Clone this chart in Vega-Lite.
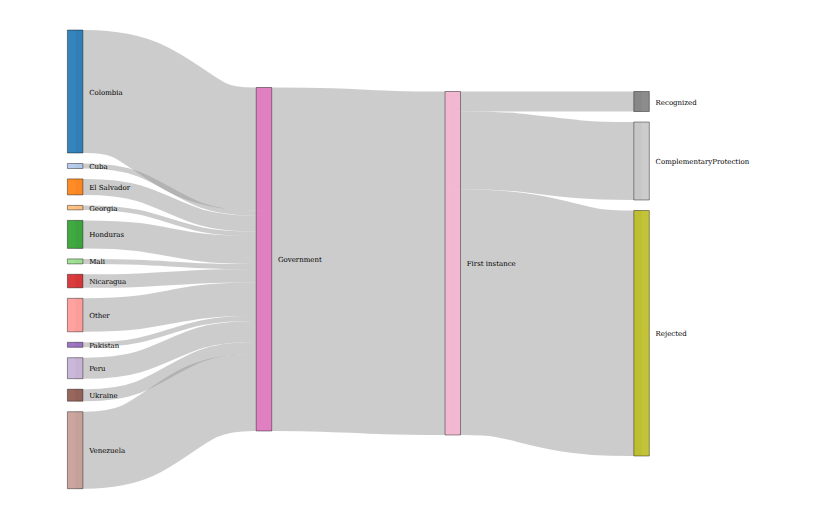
{
  "$schema": "https://vega.github.io/schema/vega-lite/v6.json",
  "width": 820,
  "height": 520,
  "autosize": {"type": "none"},
  "padding": 0,
  "background": "white",
  "config": {"view": {"stroke": null}, "scale": {"continuousPadding": 0}},
  "datasets": {
    "nodes": [
      {"name": "Colombia", "stage": 0, "y0": 30, "y1": 153},
      {"name": "Cuba", "stage": 0, "y0": 163.5, "y1": 168.5},
      {"name": "El Salvador", "stage": 0, "y0": 178.9, "y1": 194.9},
      {"name": "Georgia", "stage": 0, "y0": 205.4, "y1": 209.9},
      {"name": "Honduras", "stage": 0, "y0": 220.4, "y1": 248.4},
      {"name": "Mali", "stage": 0, "y0": 258.9, "y1": 263.9},
      {"name": "Nicaragua", "stage": 0, "y0": 274.3, "y1": 287.8},
      {"name": "Other", "stage": 0, "y0": 298.3, "y1": 331.8},
      {"name": "Pakistan", "stage": 0, "y0": 342.3, "y1": 347.3},
      {"name": "Peru", "stage": 0, "y0": 357.7, "y1": 378.7},
      {"name": "Ukraine", "stage": 0, "y0": 389.2, "y1": 401.2},
      {"name": "Venezuela", "stage": 0, "y0": 411.7, "y1": 488.7},
      {"name": "Government", "stage": 1, "y0": 87.5, "y1": 431},
      {"name": "First instance", "stage": 2, "y0": 91.5, "y1": 435},
      {"name": "Recognized", "stage": 3, "y0": 91.5, "y1": 111.5},
      {"name": "ComplementaryProtection", "stage": 3, "y0": 122, "y1": 200},
      {"name": "Rejected", "stage": 3, "y0": 210.5, "y1": 456}
    ],
    "links": [
      {"link": "Colombia", "x": 0, "y": 91.5, "v": 123},
      {"link": "Colombia", "x": 0.333, "y": 91.5, "v": 123},
      {"link": "Colombia", "x": 0.667, "y": 149, "v": 123},
      {"link": "Colombia", "x": 1, "y": 149, "v": 123},
      {"link": "Cuba", "x": 0, "y": 166, "v": 5},
      {"link": "Cuba", "x": 0.333, "y": 166, "v": 5},
      {"link": "Cuba", "x": 0.667, "y": 213, "v": 5},
      {"link": "Cuba", "x": 1, "y": 213, "v": 5},
      {"link": "El Salvador", "x": 0, "y": 186.9, "v": 16},
      {"link": "El Salvador", "x": 0.333, "y": 186.9, "v": 16},
      {"link": "El Salvador", "x": 0.667, "y": 223.5, "v": 16},
      {"link": "El Salvador", "x": 1, "y": 223.5, "v": 16},
      {"link": "Georgia", "x": 0, "y": 207.7, "v": 4.5},
      {"link": "Georgia", "x": 0.333, "y": 207.7, "v": 4.5},
      {"link": "Georgia", "x": 0.667, "y": 233.8, "v": 4.5},
      {"link": "Georgia", "x": 1, "y": 233.8, "v": 4.5},
      {"link": "Honduras", "x": 0, "y": 234.4, "v": 28},
      {"link": "Honduras", "x": 0.333, "y": 234.4, "v": 28},
      {"link": "Honduras", "x": 0.667, "y": 250, "v": 28},
      {"link": "Honduras", "x": 1, "y": 250, "v": 28},
      {"link": "Mali", "x": 0, "y": 261.4, "v": 5},
      {"link": "Mali", "x": 0.333, "y": 261.4, "v": 5},
      {"link": "Mali", "x": 0.667, "y": 266.5, "v": 5},
      {"link": "Mali", "x": 1, "y": 266.5, "v": 5},
      {"link": "Nicaragua", "x": 0, "y": 281.1, "v": 13.5},
      {"link": "Nicaragua", "x": 0.333, "y": 281.1, "v": 13.5},
      {"link": "Nicaragua", "x": 0.667, "y": 275.8, "v": 13.5},
      {"link": "Nicaragua", "x": 1, "y": 275.8, "v": 13.5},
      {"link": "Other", "x": 0, "y": 315, "v": 33.5},
      {"link": "Other", "x": 0.333, "y": 315, "v": 33.5},
      {"link": "Other", "x": 0.667, "y": 299.3, "v": 33.5},
      {"link": "Other", "x": 1, "y": 299.3, "v": 33.5},
      {"link": "Pakistan", "x": 0, "y": 344.8, "v": 5},
      {"link": "Pakistan", "x": 0.333, "y": 344.8, "v": 5},
      {"link": "Pakistan", "x": 0.667, "y": 318.5, "v": 5},
      {"link": "Pakistan", "x": 1, "y": 318.5, "v": 5},
      {"link": "Peru", "x": 0, "y": 368.2, "v": 21},
      {"link": "Peru", "x": 0.333, "y": 368.2, "v": 21},
      {"link": "Peru", "x": 0.667, "y": 331.5, "v": 21},
      {"link": "Peru", "x": 1, "y": 331.5, "v": 21},
      {"link": "Ukraine", "x": 0, "y": 395.2, "v": 12},
      {"link": "Ukraine", "x": 0.333, "y": 395.2, "v": 12},
      {"link": "Ukraine", "x": 0.667, "y": 348, "v": 12},
      {"link": "Ukraine", "x": 1, "y": 348, "v": 12},
      {"link": "Venezuela", "x": 0, "y": 450.2, "v": 77},
      {"link": "Venezuela", "x": 0.333, "y": 450.2, "v": 77},
      {"link": "Venezuela", "x": 0.667, "y": 392.5, "v": 77},
      {"link": "Venezuela", "x": 1, "y": 392.5, "v": 77},
      {"link": "Government-First instance", "x": 1, "y": 259.3, "v": 343.5},
      {"link": "Government-First instance", "x": 1.333, "y": 259.3, "v": 343.5},
      {"link": "Government-First instance", "x": 1.667, "y": 263.3, "v": 343.5},
      {"link": "Government-First instance", "x": 2, "y": 263.3, "v": 343.5},
      {"link": "Recognized", "x": 2, "y": 101.5, "v": 20},
      {"link": "Recognized", "x": 2.333, "y": 101.5, "v": 20},
      {"link": "Recognized", "x": 2.667, "y": 101.5, "v": 20},
      {"link": "Recognized", "x": 3, "y": 101.5, "v": 20},
      {"link": "ComplementaryProtection", "x": 2, "y": 150.5, "v": 78},
      {"link": "ComplementaryProtection", "x": 2.333, "y": 150.5, "v": 78},
      {"link": "ComplementaryProtection", "x": 2.667, "y": 161, "v": 78},
      {"link": "ComplementaryProtection", "x": 3, "y": 161, "v": 78},
      {"link": "Rejected", "x": 2, "y": 312.3, "v": 245.5},
      {"link": "Rejected", "x": 2.333, "y": 312.3, "v": 245.5},
      {"link": "Rejected", "x": 2.667, "y": 333.3, "v": 245.5},
      {"link": "Rejected", "x": 3, "y": 333.3, "v": 245.5}
    ]
  },
  "layer": [
    {
      "data": {"name": "links"},
      "mark": {"type": "line", "interpolate": "basis", "stroke": "#999999", "strokeOpacity": 0.5, "strokeCap": "butt"},
      "encoding": {
        "x": {"field": "x", "type": "quantitative", "scale": {"domain": [-0.398, 3.945], "nice": false, "zero": false, "padding": 0}, "axis": null},
        "y": {"field": "y", "type": "quantitative", "scale": {"domain": [0, 520], "nice": false, "zero": false, "reverse": true}, "axis": null},
        "detail": {"field": "link", "type": "nominal"},
        "strokeWidth": {"field": "v", "type": "quantitative", "scale": null, "legend": null}
      }
    },
    {
      "data": {"name": "nodes"},
      "mark": {"type": "bar", "size": 15.5, "fillOpacity": 0.9, "stroke": "#000000", "strokeOpacity": 0.4, "strokeWidth": 1},
      "encoding": {
        "x": {"field": "stage", "type": "quantitative", "scale": {"domain": [-0.398, 3.945], "nice": false, "zero": false, "padding": 0}, "axis": null},
        "y": {"field": "y0", "type": "quantitative", "scale": {"domain": [0, 520], "nice": false, "zero": false, "reverse": true}, "axis": null},
        "y2": {"field": "y1"},
        "color": {
          "field": "name",
          "type": "nominal",
          "scale": {
            "domain": ["Colombia", "Cuba", "El Salvador", "Georgia", "Honduras", "Mali", "Nicaragua", "Other", "Pakistan", "Peru", "Ukraine", "Venezuela", "Government", "First instance", "Recognized", "ComplementaryProtection", "Rejected"],
            "scheme": "category20"
          },
          "legend": null
        }
      }
    },
    {
      "data": {"name": "nodes"},
      "transform": [{"fold": ["y0", "y1"], "as": ["end", "pos"]}],
      "mark": {"type": "text", "align": "left", "baseline": "middle", "dx": 14, "dy": 1, "font": "DejaVu Serif", "fontSize": 7, "color": "#000000"},
      "encoding": {
        "x": {"field": "stage", "type": "quantitative", "scale": {"domain": [-0.398, 3.945], "nice": false, "zero": false, "padding": 0}, "axis": null},
        "y": {"aggregate": "mean", "field": "pos", "type": "quantitative", "scale": {"domain": [0, 520], "nice": false, "zero": false, "reverse": true}, "axis": null},
        "text": {"field": "name", "type": "nominal"}
      }
    }
  ]
}
